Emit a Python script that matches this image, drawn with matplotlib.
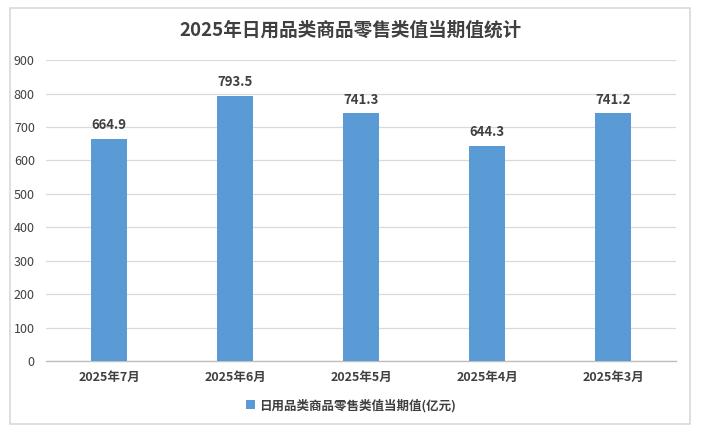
import matplotlib.pyplot as plt
from matplotlib.patches import Rectangle

plt.rcParams['font.family'] = ['Noto Sans CJK SC', 'DejaVu Sans']

categories = ['2025年7月', '2025年6月', '2025年5月', '2025年4月', '2025年3月']
values = [664.9, 793.5, 741.3, 644.3, 741.2]
series_name = '日用品类商品零售类值当期值(亿元)'
title = '2025年日用品类商品零售类值当期值统计'

fig = plt.figure(figsize=(7.02, 4.36), dpi=100)
ax = fig.add_axes([0.0655, 0.172, 0.8975, 0.69])

# 外边框
fig.patches.append(Rectangle((10 / 702, 12 / 436), 680 / 702, 416 / 436,
                             transform=fig.transFigure, fill=False,
                             edgecolor='#D9D9D9', linewidth=1.2))

x = range(len(categories))
bars = ax.bar(x, values, width=0.29, color='#5B9BD5', label=series_name, zorder=3)
for b, v in zip(bars, values):
    ax.text(b.get_x() + b.get_width() / 2, v + 20, f'{v:.1f}', ha='center', va='bottom',
            fontsize=9.5, fontweight='bold', color='#404040')

ax.set_xlim(-0.5, len(categories) - 0.5)
ax.set_ylim(0, 900)
ax.set_yticks(range(0, 901, 100))
ax.set_xticks(list(x))
ax.set_xticklabels(categories, fontsize=9, fontweight='bold', color='#404040')
ax.tick_params(axis='y', labelsize=9, colors='#404040', length=0, pad=8)
ax.tick_params(axis='x', length=0, pad=7)
ax.grid(axis='y', color='#D9D9D9', linewidth=0.9, zorder=0)
for s in ['top', 'right', 'left']:
    ax.spines[s].set_visible(False)
ax.spines['bottom'].set_color('#BFBFBF')
ax.spines['bottom'].set_linewidth(1)

fig.text(0.5, 0.93, title, ha='center', va='center', fontsize=13.4,
         fontweight='bold', color='#404040')

fig.legend(loc='center', bbox_to_anchor=(0.5, 0.07), frameon=False,
           prop={'size': 9, 'weight': 'bold'}, handlelength=0.7, handleheight=0.7,
           handletextpad=0.3, labelcolor='#404040')

plt.savefig('out.png', dpi=100)
